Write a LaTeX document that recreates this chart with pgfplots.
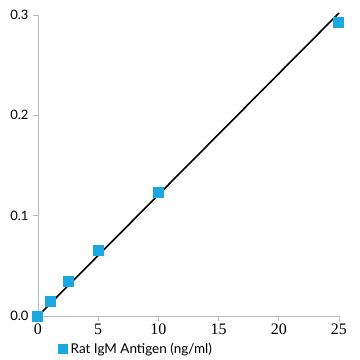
\documentclass[border=0pt]{standalone}
\usepackage{pgfplots}
\pgfplotsset{compat=1.18}
\usepackage{fontspec}
\setmainfont{Lato}
\newfontfamily\serifx{Liberation Serif}
\definecolor{mk}{HTML}{1BA8E0}
\definecolor{ax}{HTML}{BBBBBB}
\begin{document}
\begin{tikzpicture}[x=1pt,y=1pt]
\path[use as bounding box] (-38,-44) rectangle (322,316);
\begin{axis}[
  at={(0,0)}, anchor=south west,
  scale only axis, width=301pt, height=301pt,
  xmin=0, xmax=25, ymin=0, ymax=0.3,
  axis x line*=bottom, axis y line*=left,
  axis line style={ax, line width=0.8pt},
  xtick={0,5,10,15,20,25}, ytick={0,0.1,0.2,0.3},
  tick style={ax, line width=0.8pt},
  tick align=outside, major tick length=5pt,
  yticklabel style={/pgf/number format/fixed, /pgf/number format/precision=1, /pgf/number format/fixed zerofill, xshift=-1pt},
  yticklabel={\fontsize{13}{13}\selectfont\pgfmathprintnumber{\tick}},
  xticklabels={{\serifx\fontsize{16}{16}\selectfont 0},{\serifx\fontsize{16}{16}\selectfont 5},{\serifx\fontsize{16}{16}\selectfont 10},{\serifx\fontsize{16}{16}\selectfont 15},{\serifx\fontsize{16}{16}\selectfont 20},{\serifx\fontsize{16}{16}\selectfont 25}},
  xticklabel style={yshift=1pt},
  /pgf/number format/assume math mode=true,
  clip=false,
  legend style={draw=none, at={(0.065,-0.107)}, anchor=west, font=\fontsize{13.5}{13.5}\selectfont, inner sep=0pt,
    nodes={inner sep=0pt, text depth=0pt}},
  legend cell align=left,
  legend image code/.code={\fill[mk] (-4.5pt,-4.5pt) rectangle (4.5pt,4.5pt); \path (8pt,0);},
]
\addplot[black, line width=1.6pt, forget plot] coordinates {(0,0) (25,0.302)};
\addplot[only marks, mark=square*, mark size=5pt, mark options={draw=mk, fill=mk, line width=0pt}] coordinates {
(0,0) (1,0.014) (2.5,0.034) (5,0.065) (10,0.123) (25,0.293)};
\addlegendentry{Rat IgM Antigen (ng/ml)}
\end{axis}
\end{tikzpicture}
\end{document}
